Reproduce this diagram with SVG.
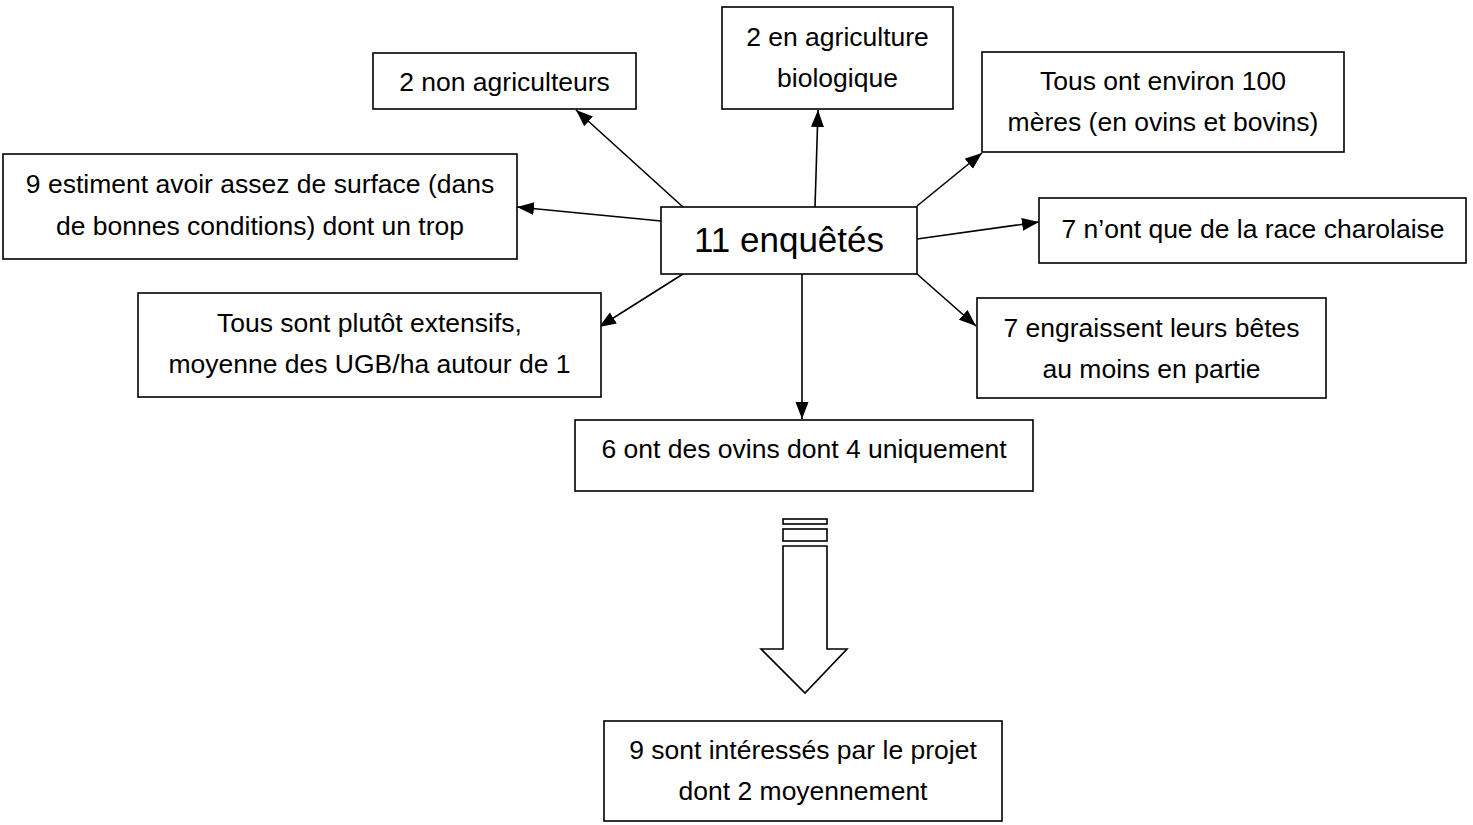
<svg xmlns="http://www.w3.org/2000/svg" width="1473" height="825" viewBox="0 0 1473 825">
<style>
.box{fill:#fff;stroke:#000;stroke-width:1.6}
.t{font-family:"Liberation Sans",Arial,sans-serif;font-size:26.5px;fill:#000;text-anchor:middle}
.big{font-size:35px}
.c{stroke:#000;stroke-width:1.6;fill:none;marker-end:url(#ah)}
</style>
<defs>
<marker id="ah" markerUnits="userSpaceOnUse" markerWidth="19" markerHeight="14" refX="17" refY="7" orient="auto">
<path d="M0,0.5 L17,7 L0,13.5 Z" fill="#000"/>
</marker>
</defs>
<rect width="1473" height="825" fill="#fff"/>
<g id="connectors">
<line class="c" x1="683" y1="207" x2="576" y2="110"/>
<line class="c" x1="815" y1="207" x2="818" y2="110"/>
<line class="c" x1="917" y1="206" x2="982" y2="153"/>
<line class="c" x1="661" y1="221" x2="517" y2="207"/>
<line class="c" x1="917" y1="239" x2="1039" y2="222"/>
<line class="c" x1="683" y1="274" x2="599" y2="327"/>
<line class="c" x1="802" y1="274" x2="802" y2="419"/>
<line class="c" x1="917" y1="274" x2="976" y2="326"/>
</g>
<g id="n-center">
<rect class="box" x="661" y="207" width="256" height="67"/>
<text class="t big" x="789" y="252">11 enquêtés</text>
</g>
<g id="n-nonagri">
<rect class="box" x="373" y="53" width="263" height="56"/>
<text class="t" x="504.5" y="91">2 non agriculteurs</text>
</g>
<g id="n-bio">
<rect class="box" x="722" y="7" width="231" height="102"/>
<text class="t" x="837.5" y="46">2 en agriculture</text>
<text class="t" x="837.5" y="87">biologique</text>
</g>
<g id="n-meres">
<rect class="box" x="982" y="52" width="362" height="100"/>
<text class="t" x="1163" y="90">Tous ont environ 100</text>
<text class="t" x="1163" y="131">mères (en ovins et bovins)</text>
</g>
<g id="n-surface">
<rect class="box" x="3" y="154" width="514" height="105"/>
<text class="t" x="260" y="193">9 estiment avoir assez de surface (dans</text>
<text class="t" x="260" y="235">de bonnes conditions) dont un trop</text>
</g>
<g id="n-charolaise">
<rect class="box" x="1039" y="198" width="427" height="65"/>
<text class="t" x="1253" y="238">7 n’ont que de la race charolaise</text>
</g>
<g id="n-extensifs">
<rect class="box" x="138" y="293" width="463" height="104"/>
<text class="t" x="369.5" y="332">Tous sont plutôt extensifs,</text>
<text class="t" x="369.5" y="373">moyenne des UGB/ha autour de 1</text>
</g>
<g id="n-engraissent">
<rect class="box" x="977" y="298" width="349" height="100"/>
<text class="t" x="1151.5" y="337">7 engraissent leurs bêtes</text>
<text class="t" x="1151.5" y="378">au moins en partie</text>
</g>
<g id="n-ovins">
<rect class="box" x="575" y="420" width="458" height="71"/>
<text class="t" x="804" y="458">6 ont des ovins dont 4 uniquement</text>
</g>
<g id="block-arrow">
<rect class="box" x="783" y="519" width="44" height="5"/>
<rect class="box" x="783" y="529" width="44" height="12"/>
<polygon class="box" points="783,546 827,546 827,649 847,649 805,693 761,649 783,649"/>
</g>
<g id="n-interesses">
<rect class="box" x="604" y="721" width="398" height="100"/>
<text class="t" x="803" y="759">9 sont intéressés par le projet</text>
<text class="t" x="803" y="800">dont 2 moyennement</text>
</g>
</svg>
